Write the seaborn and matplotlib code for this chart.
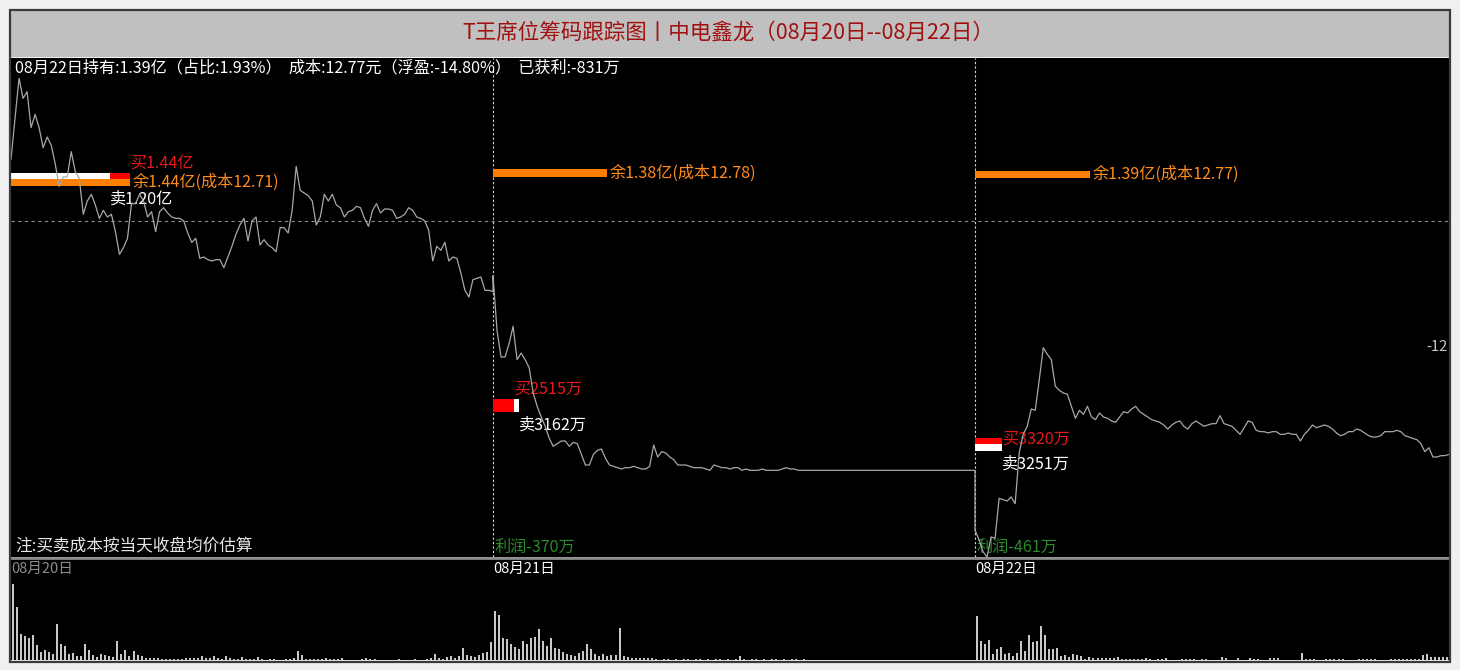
import numpy as np
import pandas as pd
import matplotlib
matplotlib.use("Agg")
import matplotlib.pyplot as plt
from matplotlib.patches import Rectangle
import seaborn as sns

# ---------------- data ----------------
title = "T王席位筹码跟踪图丨中电鑫龙（08月20日--08月22日）"
info_text = "08月22日持有:1.39亿（占比:1.93%）  成本:12.77元（浮盈:-14.80%）  已获利:-831万"
note_text = "注:买卖成本按当天收盘均价估算"
day_labels = ["08月20日", "08月21日", "08月22日"]

# minute prices, one value every 2 minutes
price_day1 = [
    12.88, 13.19, 13.49, 13.34, 13.39, 13.12, 13.22, 13.12, 12.97, 13.05,
    12.99, 12.85, 12.68, 12.75, 12.75, 12.94, 12.79, 12.74, 12.47, 12.57,
    12.62, 12.54, 12.44, 12.50, 12.45, 12.47, 12.34, 12.17, 12.22, 12.29,
    12.55, 12.55, 12.62, 12.57, 12.45, 12.49, 12.34, 12.49, 12.52, 12.48,
    12.45, 12.44, 12.44, 12.42, 12.33, 12.26, 12.29, 12.14, 12.15, 12.13,
    12.12, 12.13, 12.13, 12.07, 12.15, 12.23, 12.32, 12.39, 12.44, 12.27,
    12.42, 12.45, 12.24, 12.28, 12.24, 12.22, 12.19, 12.37, 12.37, 12.33,
    12.50, 12.83, 12.65, 12.63, 12.61, 12.57, 12.39, 12.45, 12.62, 12.57,
    12.62, 12.54, 12.52, 12.45, 12.49, 12.50, 12.53, 12.52, 12.44, 12.38,
    12.50, 12.55, 12.48, 12.51, 12.51, 12.50, 12.44, 12.45, 12.47, 12.52,
    12.50, 12.45, 12.44, 12.42, 12.35, 12.12, 12.23, 12.20, 12.26, 12.12,
    12.15, 12.14, 12.03, 11.90, 11.85, 11.98, 11.99, 12.00, 11.90, 11.90,
    11.89]
price_day2 = [
    12.01, 11.60, 11.40, 11.40, 11.50, 11.63, 11.38, 11.43, 11.38, 11.32,
    11.13, 11.03, 10.95, 10.88, 10.79, 10.73, 10.75, 10.77, 10.77, 10.73,
    10.76, 10.75, 10.67, 10.59, 10.59, 10.67, 10.70, 10.71, 10.64, 10.59,
    10.58, 10.57, 10.56, 10.57, 10.57, 10.58, 10.57, 10.56, 10.56, 10.58,
    10.74, 10.65, 10.69, 10.68, 10.65, 10.63, 10.59, 10.59, 10.59, 10.58,
    10.57, 10.57, 10.57, 10.56, 10.55, 10.59, 10.58, 10.57, 10.57, 10.56,
    10.57, 10.57, 10.55, 10.56, 10.55, 10.55, 10.55, 10.56, 10.55, 10.55,
    10.55, 10.55, 10.56, 10.57, 10.56, 10.56, 10.55, 10.55, 10.55, 10.55,
    10.55, 10.55, 10.55, 10.55, 10.55, 10.55, 10.55, 10.55, 10.55, 10.55,
    10.55, 10.55, 10.55, 10.55, 10.55, 10.55, 10.55, 10.55, 10.55, 10.55,
    10.55, 10.55, 10.55, 10.55, 10.55, 10.55, 10.55, 10.55, 10.55, 10.55,
    10.55, 10.55, 10.55, 10.55, 10.55, 10.55, 10.55, 10.55, 10.55, 10.55,
    10.55]
price_day3 = [
    10.10, 10.03, 9.94, 9.90, 10.05, 10.04, 10.34, 10.33, 10.32, 10.35,
    10.30, 10.68, 10.82, 10.88, 11.01, 11.00, 11.23, 11.47, 11.42, 11.38,
    11.18, 11.15, 11.13, 11.12, 11.03, 10.94, 11.00, 10.97, 11.03, 10.95,
    10.93, 10.98, 10.95, 10.94, 10.92, 10.91, 10.95, 10.99, 10.98, 11.01,
    11.03, 10.99, 10.97, 10.95, 10.93, 10.92, 10.91, 10.89, 10.86, 10.89,
    10.91, 10.92, 10.88, 10.86, 10.90, 10.92, 10.90, 10.88, 10.89, 10.90,
    10.90, 10.96, 10.90, 10.89, 10.88, 10.85, 10.82, 10.87, 10.92, 10.91,
    10.85, 10.84, 10.84, 10.83, 10.84, 10.84, 10.82, 10.82, 10.83, 10.82,
    10.82, 10.77, 10.82, 10.85, 10.89, 10.87, 10.88, 10.89, 10.88, 10.86,
    10.83, 10.81, 10.82, 10.84, 10.84, 10.86, 10.85, 10.83, 10.81, 10.80,
    10.80, 10.81, 10.84, 10.84, 10.84, 10.85, 10.84, 10.81, 10.80, 10.79,
    10.78, 10.75, 10.69, 10.72, 10.65, 10.65, 10.66, 10.66, 10.67]

# volume per 2-minute slot (relative units)
vol_day1 = [
    75, 52, 26, 24, 22, 25, 15, 8, 10, 8,
    6, 36, 16, 14, 6, 7, 4, 4, 16, 10,
    5, 3, 6, 5, 4, 3, 19, 6, 10, 4,
    9, 5, 4, 2, 2, 2, 2, 1, 1, 1,
    1, 1, 1, 2, 2, 2, 2, 4, 2, 2,
    4, 2, 1, 4, 2, 1, 1, 3, 1, 1,
    1, 3, 1, 0, 1, 1, 0, 0, 1, 1,
    2, 9, 5, 1, 1, 1, 1, 1, 2, 1,
    1, 1, 2, 0, 0, 0, 0, 1, 2, 1,
    1, 0, 0, 0, 0, 0, 1, 0, 0, 0,
    1, 0, 0, 1, 2, 6, 2, 1, 3, 4,
    2, 4, 12, 5, 4, 3, 5, 7, 8, 18]
vol_day2 = [
    49, 45, 22, 21, 16, 13, 11, 19, 16, 22,
    23, 31, 19, 14, 22, 12, 11, 8, 6, 5,
    4, 7, 9, 16, 11, 6, 4, 6, 4, 5,
    5, 32, 4, 3, 2, 2, 2, 2, 2, 2,
    1, 0, 1, 1, 0, 1, 0, 1, 1, 0,
    1, 1, 0, 1, 0, 1, 1, 0, 1, 0,
    1, 4, 1, 0, 1, 1, 0, 1, 0, 1,
    1, 0, 1, 0, 1, 1, 0, 1, 0, 0,
    0, 0, 0, 0, 0, 0, 0, 0, 0, 0,
    0, 0, 0, 0, 0, 0, 0, 0, 0, 0,
    0, 0, 0, 0, 0, 0, 0, 0, 0, 0,
    0, 0, 0, 0, 0, 0, 0, 0, 0, 0]
vol_day3 = [
    44, 19, 16, 20, 6, 11, 13, 6, 7, 4,
    7, 19, 9, 25, 18, 19, 34, 25, 11, 11,
    12, 4, 5, 3, 6, 5, 4, 1, 3, 2,
    2, 2, 2, 2, 2, 3, 1, 1, 1, 1,
    1, 1, 2, 1, 0, 1, 1, 2, 0, 0,
    0, 1, 1, 1, 1, 0, 1, 1, 0, 0,
    0, 3, 2, 0, 0, 2, 0, 0, 2, 1,
    1, 0, 0, 2, 2, 2, 0, 0, 0, 0,
    0, 7, 1, 1, 1, 0, 0, 1, 1, 1,
    1, 1, 0, 0, 0, 1, 1, 1, 1, 1,
    0, 0, 0, 1, 1, 1, 1, 1, 1, 1,
    1, 5, 6, 3, 3, 3, 3, 3, 6]

prev_close = 12.42
buy_amount = [1.44, 0.2515, 0.3320]      # 亿
sell_amount = [1.20, 0.3162, 0.3251]     # 亿
hold_amount = [1.44, 1.38, 1.39]         # 亿
hold_cost = [12.71, 12.78, 12.77]
buy_price = [12.731, 11.04, 10.746]
sell_price = [12.757, 11.04, 10.72]
buy_text = ["买1.44亿", "买2515万", "买3320万"]
sell_text = ["卖1.20亿", "卖3162万", "卖3251万"]
hold_text = ["余1.44亿(成本12.71)", "余1.38亿(成本12.78)", "余1.39亿(成本12.77)"]
profit_text = ["", "利润-370万", "利润-461万"]
axis_label = "-12"

# ---------------- layout / style ----------------
W, H = 1460, 670
PX_PER_MIN = 482 / 240
P_PER_PX = 0.0075
MIN_PER_YI = 119 / 1.44 / PX_PER_MIN
day_start = [0, 240, 480]
XMAX = (1449 - 11) / PX_PER_MIN
YMIN, YMAX = 14.0775 - 557 * P_PER_PX, 14.0775 - 58 * P_PER_PX

buy_h_px = [13, 13, 13]
sell_h_px = [6, 13, 6.5]
hold_h_px = 7.5
buy_lbl_dy = [16.5, 15.3, 5.2]
sell_lbl_dy = [-23, -19.7, -16.7]
LBL_FS = 11.6

sns.set_style("dark", {"axes.facecolor": "black"})
plt.rcParams["font.family"] = ["Noto Sans CJK SC", "DejaVu Sans"]
plt.rcParams["axes.unicode_minus"] = False

fig = plt.figure(figsize=(W / 100, H / 100), dpi=100, facecolor="#f0f0f0")


def fx(px):
    return px / W


def fy(py):
    return 1 - py / H


# title bar and frame
fig.patches.append(Rectangle((fx(11), fy(57)), fx(1449) - fx(11), fy(11) - fy(57),
                             transform=fig.transFigure, facecolor="#c0c0c0",
                             edgecolor="none", zorder=0))
fig.patches.append(Rectangle((fx(10), fy(662)), fx(1450) - fx(10), fy(10) - fy(662),
                             transform=fig.transFigure, fill=False,
                             edgecolor="#3a3a3a", lw=1.6, zorder=5))
fig.text(fx(728), fy(33), title, color="#a01010", fontsize=15.5,
         ha="center", va="center")

ax = fig.add_axes([fx(11), fy(557), fx(1449) - fx(11), fy(58) - fy(557)])
axv = fig.add_axes([fx(11), fy(660), fx(1449) - fx(11), fy(558) - fy(660)])
for a in (ax, axv):
    a.set_facecolor("black")
    a.set_xlim(0, XMAX)
    a.set_xticks([])
    a.set_yticks([])
    for s in a.spines.values():
        s.set_visible(False)
ax.set_ylim(YMIN, YMAX)
axv.set_ylim(0, 101)
axv.spines["top"].set_visible(True)
axv.spines["top"].set_color("#8a8a8a")
axv.spines["top"].set_linewidth(2)

# reference lines
ax.axhline(prev_close, color="#8c8c8c", lw=0.8, ls=(0, (3, 3)), zorder=1)
for d in day_start[1:]:
    ax.axvline(d, color="#d8d8d8", lw=0.8, ls=(0, (2, 2)), zorder=1)

# chip bars
for i in range(3):
    s = day_start[i]
    bw = buy_amount[i] * MIN_PER_YI
    sw = sell_amount[i] * MIN_PER_YI
    hw = hold_amount[i] * MIN_PER_YI
    buy_bar = (s, bw, buy_price[i], buy_h_px[i] * P_PER_PX, "#ff0000")
    sell_bar = (s, sw, sell_price[i], sell_h_px[i] * P_PER_PX, "#ffffff")
    order = [buy_bar, sell_bar] if bw >= sw else [sell_bar, buy_bar]
    for (left, w, y, h, c) in order:
        ax.barh(y, w, height=h, left=left, color=c, linewidth=0, zorder=2)
    ax.barh(hold_cost[i], hw, height=hold_h_px * P_PER_PX, left=s,
            color="#ff8000", linewidth=0, zorder=3)
    ax.annotate(buy_text[i], (s + bw, buy_price[i]), xytext=(0, buy_lbl_dy[i]),
                textcoords="offset pixels", color="#e81818", fontsize=LBL_FS,
                ha="left", va="center", zorder=4)
    ax.annotate(sell_text[i], (s + sw, sell_price[i]), xytext=(0, sell_lbl_dy[i]),
                textcoords="offset pixels", color="#ffffff", fontsize=LBL_FS,
                ha="left", va="center", zorder=4)
    ax.annotate(hold_text[i], (s + hw, hold_cost[i]), xytext=(3, 0),
                textcoords="offset pixels", color="#ff8c1a", fontsize=LBL_FS,
                ha="left", va="center", zorder=4)
    if profit_text[i]:
        ax.annotate(profit_text[i], (s, YMIN), xytext=(2, 10),
                    textcoords="offset pixels", color="#2a8c2a", fontsize=LBL_FS,
                    ha="left", va="center", zorder=4)

# price line
minutes = np.concatenate([
    day_start[0] + 2 * np.arange(len(price_day1)),
    day_start[1] + 2 * np.arange(len(price_day2)),
    day_start[2] + 2 * np.arange(len(price_day3)),
])
prices = np.concatenate([price_day1, price_day2, price_day3])
df = pd.DataFrame({"minute": minutes, "price": prices})
sns.lineplot(data=df, x="minute", y="price", ax=ax, color="#a8a8a8", lw=0.9,
             estimator=None, sort=False, zorder=6)
ax.set_xlabel("")
ax.set_ylabel("")

# volume
vol_x = np.concatenate([
    day_start[0] + 1 + 2 * np.arange(len(vol_day1)),
    day_start[1] + 1 + 2 * np.arange(len(vol_day2)),
    day_start[2] + 1 + 2 * np.arange(len(vol_day3)),
])
vols = np.concatenate([vol_day1, vol_day2, vol_day3])
axv.bar(vol_x, vols, width=1.0, color="#c8c8c8", linewidth=0)

# texts
ax.text(0.0028, 1 - 10 / 499, info_text, transform=ax.transAxes,
        color="#ffffff", fontsize=11.6, ha="left", va="center")
ax.text(0.0028, 10 / 499, note_text, transform=ax.transAxes, color="#e6e6e6",
        fontsize=12, ha="left", va="center")
ax.text(1 - 1 / 1438, 1 - (347 - 58) / 499, axis_label, transform=ax.transAxes,
        color="#c8c8c8", fontsize=10.5, ha="right", va="center")
for i, lab in enumerate(day_labels):
    axv.annotate(lab, (day_start[i], 101), xytext=(0, -11),
                 textcoords="offset pixels", color="#8c8c8c" if i == 0 else "#ffffff",
                 fontsize=10.5, ha="left", va="center")

fig.savefig("out.png", dpi=100, facecolor=fig.get_facecolor())
